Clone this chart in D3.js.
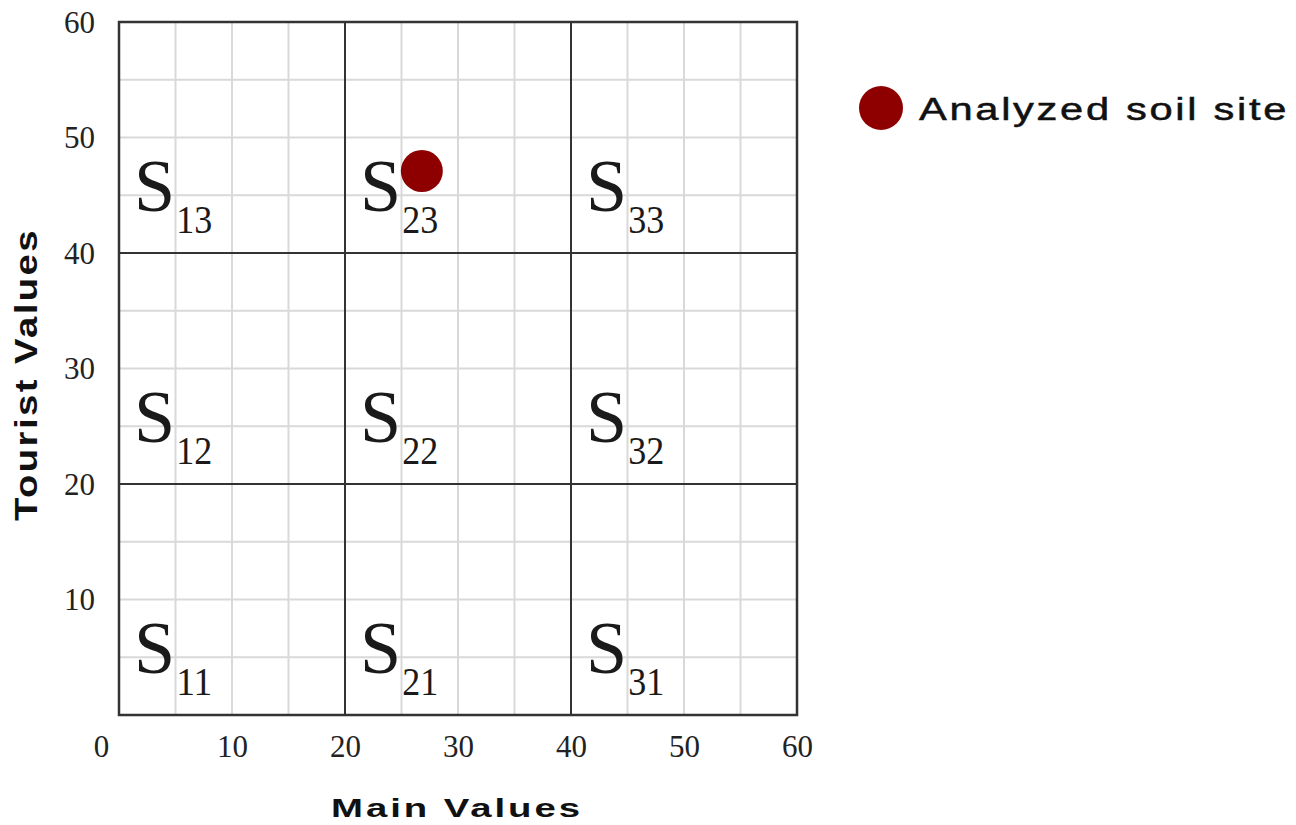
<!DOCTYPE html>
<html>
<head>
<meta charset="utf-8">
<script src="https://cdn.jsdelivr.net/npm/d3@7"></script>
<style>
  html, body { margin: 0; padding: 0; background: #fff; }
  svg { display: block; }
</style>
</head>
<body>
<svg id="chart" width="1296" height="825"></svg>
<script>
// ---- data ----
const xTickValues = [0, 10, 20, 30, 40, 50, 60];
const yTickValues = [10, 20, 30, 40, 50, 60];
const minorGrid = [5, 10, 15, 25, 30, 35, 45, 50, 55];
const majorGrid = [20, 40];
const zoneCols = [1, 2, 3];
const zoneRows = [1, 2, 3];
const zoneBounds = [0, 20, 40, 60];
const siteMain = [26.8];
const siteTourist = [47.1];
const xTitle = "Main Values";
const yTitle = "Tourist Values";
const legendLabel = "Analyzed soil site";

// ---- layout ----
const margin = { left: 119, top: 22, right: 1296 - 797, bottom: 825 - 715 };
const W = 1296, H = 825;
const svg = d3.select("#chart");

const x = d3.scaleLinear().domain([0, 60]).range([margin.left, W - margin.right]);
const y = d3.scaleLinear().domain([0, 60]).range([H - margin.bottom, margin.top]);

const gridColor = "#d9d9d9";
const darkColor = "#333333";
const dotColor = "#8e0000";
const serif = "'Liberation Serif', 'Times New Roman', serif";
const sans = "'Liberation Sans', Arial, sans-serif";

// minor grid
const g = svg.append("g");
g.selectAll("line.vminor").data(minorGrid).join("line")
  .attr("x1", d => x(d)).attr("x2", d => x(d))
  .attr("y1", y(0)).attr("y2", y(60))
  .attr("stroke", gridColor).attr("stroke-width", 2);
g.selectAll("line.hminor").data(minorGrid).join("line")
  .attr("y1", d => y(d)).attr("y2", d => y(d))
  .attr("x1", x(0)).attr("x2", x(60))
  .attr("stroke", gridColor).attr("stroke-width", 2);

// major grid
g.selectAll("line.vmajor").data(majorGrid).join("line")
  .attr("x1", d => x(d)).attr("x2", d => x(d))
  .attr("y1", y(0)).attr("y2", y(60))
  .attr("stroke", darkColor).attr("stroke-width", 2);
g.selectAll("line.hmajor").data(majorGrid).join("line")
  .attr("y1", d => y(d)).attr("y2", d => y(d))
  .attr("x1", x(0)).attr("x2", x(60))
  .attr("stroke", darkColor).attr("stroke-width", 2);

// border
svg.append("rect")
  .attr("x", x(0)).attr("y", y(60))
  .attr("width", x(60) - x(0)).attr("height", y(0) - y(60))
  .attr("fill", "none").attr("stroke", darkColor).attr("stroke-width", 2.5);

// x axis via d3 axis (no lines)
const xAxis = svg.append("g")
  .attr("transform", `translate(0,${y(0)})`)
  .call(d3.axisBottom(x).tickValues(xTickValues).tickSize(0).tickPadding(0).tickFormat(d3.format("d")));
xAxis.select(".domain").remove();
xAxis.selectAll("text")
  .attr("y", 42).attr("dy", 0)
  .attr("dx", d => d === 0 ? -18 : 0)
  .attr("font-family", serif).attr("font-size", 31).attr("fill", "#222");

const yAxis = svg.append("g")
  .attr("transform", `translate(${x(0)},0)`)
  .call(d3.axisLeft(y).tickValues(yTickValues).tickSize(0).tickPadding(0).tickFormat(d3.format("d")));
yAxis.select(".domain").remove();
yAxis.selectAll("text")
  .attr("x", -24).attr("dy", "0.33em")
  .attr("font-family", serif).attr("font-size", 31).attr("fill", "#222");

// zone labels S_ij
const zones = [];
zoneCols.forEach(c => zoneRows.forEach(r => zones.push({ c, r })));
const zl = svg.append("g").selectAll("text").data(zones).join("text")
  .attr("x", d => x(zoneBounds[d.c - 1]) + 15)
  .attr("y", d => y(zoneBounds[d.r - 1]) - 42)
  .attr("font-family", serif).attr("fill", "#1a1a1a");
zl.append("tspan").attr("font-size", 74).text("S");
zl.append("tspan").attr("font-size", 41).attr("dx", 1).attr("dy", 22)
  .attr("textLength", 36).attr("lengthAdjust", "spacingAndGlyphs")
  .text(d => `${d.c}${d.r}`);

// site point
svg.append("g").selectAll("circle").data(siteMain).join("circle")
  .attr("cx", d => x(d))
  .attr("cy", (d, i) => y(siteTourist[i]))
  .attr("r", 21)
  .attr("fill", dotColor);

// axis titles
svg.append("text")
  .attr("x", (x(0) + x(60)) / 2 - 1).attr("y", 817)
  .attr("text-anchor", "middle")
  .attr("font-family", sans).attr("font-weight", "bold").attr("font-size", 26)
  .attr("letter-spacing", 2)
  .attr("textLength", 252).attr("lengthAdjust", "spacingAndGlyphs")
  .attr("fill", "#111")
  .text(xTitle);

svg.append("text")
  .attr("transform", `translate(37,${(y(0) + y(60)) / 2 + 6}) rotate(-90)`)
  .attr("text-anchor", "middle")
  .attr("font-family", sans).attr("font-weight", "bold").attr("font-size", 31)
  .attr("letter-spacing", 2)
  .attr("textLength", 293).attr("lengthAdjust", "spacingAndGlyphs")
  .attr("fill", "#111")
  .text(yTitle);

// legend
const leg = svg.append("g").attr("transform", "translate(881,108)");
leg.append("circle").attr("r", 22).attr("fill", dotColor);
leg.append("text")
  .attr("x", 38).attr("y", 12)
  .attr("font-family", sans).attr("font-size", 31)
  .attr("letter-spacing", 2)
  .attr("stroke", "#111").attr("stroke-width", 0.5)
  .attr("textLength", 370).attr("lengthAdjust", "spacingAndGlyphs")
  .attr("fill", "#111")
  .text(legendLabel);
</script>
</body>
</html>
